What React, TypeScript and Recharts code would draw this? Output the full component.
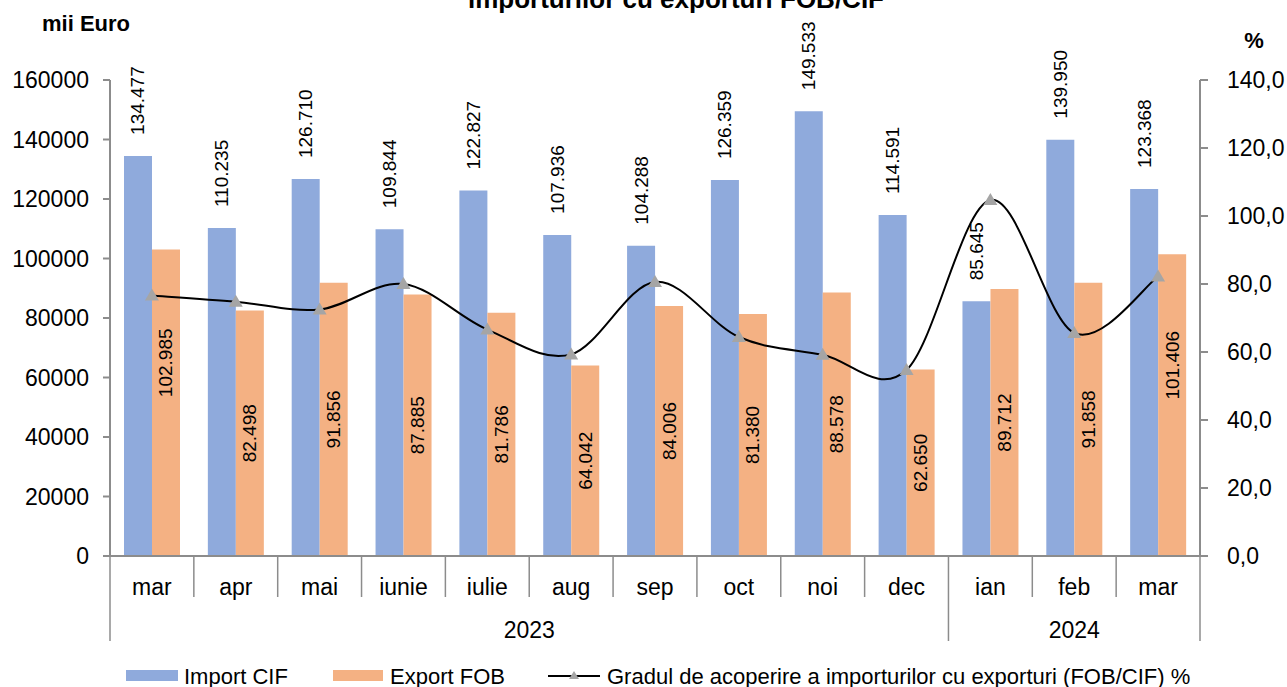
import React from 'react'
import {
  ComposedChart,
  Bar,
  Line,
  XAxis,
  YAxis,
  LabelList,
} from 'recharts'

// --- data (mii Euro) ---
const months = ['mar', 'apr', 'mai', 'iunie', 'iulie', 'aug', 'sep', 'oct', 'noi', 'dec', 'ian', 'feb', 'mar']
const years = ['2023', '2023', '2023', '2023', '2023', '2023', '2023', '2023', '2023', '2023', '2024', '2024', '2024']
const importCif = [134477, 110235, 126710, 109844, 122827, 107936, 104288, 126359, 149533, 114591, 85645, 139950, 123368]
const exportFob = [102985, 82498, 91856, 87885, 81786, 64042, 84006, 81380, 88578, 62650, 89712, 91858, 101406]
const coverage = [76.6, 74.8, 72.5, 80.0, 66.6, 59.3, 80.6, 64.4, 59.2, 54.7, 104.7, 65.6, 82.2]
const leftTicks = [0, 20000, 40000, 60000, 80000, 100000, 120000, 140000, 160000]
const rightTicks = [0, 20, 40, 60, 80, 100, 120, 140]

const data = months.map((m, i) => ({
  month: m,
  year: years[i],
  imp: importCif[i],
  exp: exportFob[i],
  cov: coverage[i],
}))

// layout
const W = 1287
const H = 687
const LEFT_W = 110
const RIGHT_W = 87
const TOP = 80
const XAXIS_H = 90
const BOTTOM = 41
const BAND = (W - LEFT_W - RIGHT_W) / months.length

const FONT = '"Liberation Sans", Arial, sans-serif'
const BLUE = '#8FAADC'
const ORANGE = '#F4B183'
const AXIS = '#8c8c8c'
const MARKER = '#a5a5a5'

const fmtThousands = (v: number) => (v / 1000).toFixed(3)

// Excel-like smooth line (catmull-rom)
const smoothCurve: any = (context: any) => {
  let pts: number[][] = []
  return {
    areaStart() {},
    areaEnd() {},
    lineStart() { pts = [] },
    point(x: number, y: number) { pts.push([+x, +y]) },
    lineEnd() {
      if (!pts.length) return
      context.moveTo(pts[0][0], pts[0][1])
      for (let i = 0; i < pts.length - 1; i++) {
        const p0 = pts[i - 1] || pts[i]
        const p1 = pts[i]
        const p2 = pts[i + 1]
        const p3 = pts[i + 2] || p2
        context.bezierCurveTo(
          p1[0] + (p2[0] - p0[0]) / 6, p1[1] + (p2[1] - p0[1]) / 6,
          p2[0] - (p3[0] - p1[0]) / 6, p2[1] - (p3[1] - p1[1]) / 6,
          p2[0], p2[1],
        )
      }
    },
  }
}

const ImportLabel = (props: any) => {
  const { x, y, width, value } = props
  const cx = x + width / 2
  const ty = y - 21
  return (
    <text x={cx} y={ty} transform={`rotate(-90 ${cx} ${ty})`} textAnchor="start" dominantBaseline="central"
      fontSize={19} fontFamily={FONT} fill="#000">
      {fmtThousands(value)}
    </text>
  )
}

const ExportLabel = (props: any) => {
  const { x, y, width, height, value } = props
  const cx = x + width / 2
  const cy = y + height / 2 + (value >= 100000 ? -40 : 0)
  return (
    <text x={cx} y={cy} transform={`rotate(-90 ${cx} ${cy})`} textAnchor="middle" dominantBaseline="central"
      fontSize={19} fontFamily={FONT} fill="#000">
      {fmtThousands(value)}
    </text>
  )
}

const TriangleDot = (props: any) => {
  const { cx, cy, index } = props
  if (cx == null || cy == null) return null
  return <path key={index} d={`M${cx},${cy - 7} L${cx + 7},${cy + 5} L${cx - 7},${cy + 5} Z`} fill={MARKER} />
}

const MonthTick = (props: any) => {
  const { x, y, payload } = props
  const i = payload.index
  const last = months.length - 1
  const firstOfYear = i === 0 || years[i] !== years[i - 1]
  const left = x - BAND / 2
  let yearCount = 0
  if (firstOfYear) {
    while (i + yearCount < months.length && years[i + yearCount] === years[i]) yearCount++
  }
  return (
    <g>
      <line x1={left} x2={left} y1={y} y2={firstOfYear ? y + 85 : y + 41} stroke={AXIS} strokeWidth={1.5} />
      {i === last && (
        <line x1={x + BAND / 2} x2={x + BAND / 2} y1={y} y2={y + 85} stroke={AXIS} strokeWidth={1.5} />
      )}
      <text x={x} y={y + 39} textAnchor="middle" fontSize={23} fontFamily={FONT} fill="#000">
        {months[i]}
      </text>
      {firstOfYear && (
        <text x={x + ((yearCount - 1) / 2) * BAND} y={y + 82} textAnchor="middle" fontSize={23} fontFamily={FONT} fill="#000">
          {years[i]}
        </text>
      )}
    </g>
  )
}

export default function App() {
  return (
    <div style={{ position: 'absolute', left: 0, top: 0, width: W, height: H, background: '#fff', fontFamily: FONT }}>
      <ComposedChart
        width={W}
        height={H}
        data={data}
        margin={{ top: TOP, right: 0, left: 0, bottom: BOTTOM }}
        barCategoryGap="16.7%"
        barGap={0}
      >
        <XAxis
          dataKey="month"
          height={XAXIS_H}
          interval={0}
          tickLine={false}
          tickSize={0}
          tickMargin={0}
          axisLine={{ stroke: AXIS, strokeWidth: 2 }}
          tick={<MonthTick />}
        />
        <YAxis
          yAxisId="left"
          width={LEFT_W}
          domain={[0, 160000]}
          ticks={leftTicks}
          interval={0}
          tickSize={7}
          tickMargin={14}
          axisLine={{ stroke: AXIS, strokeWidth: 2 }}
          tickLine={{ stroke: AXIS, strokeWidth: 2 }}
          tick={{ fontSize: 23, fill: '#000', fontFamily: FONT }}
        />
        <YAxis
          yAxisId="right"
          orientation="right"
          width={RIGHT_W}
          domain={[0, 140]}
          ticks={rightTicks}
          interval={0}
          tickSize={8}
          tickMargin={19}
          axisLine={{ stroke: AXIS, strokeWidth: 2 }}
          tickLine={{ stroke: AXIS, strokeWidth: 2 }}
          tick={{ fontSize: 23, fill: '#000', fontFamily: FONT, textAnchor: 'start' }}
          tickFormatter={(v: number) => v.toFixed(1).replace('.', ',')}
        />
        <Bar yAxisId="left" dataKey="imp" name="Import CIF" fill={BLUE} isAnimationActive={false}>
          <LabelList dataKey="imp" content={<ImportLabel />} />
        </Bar>
        <Bar yAxisId="left" dataKey="exp" name="Export FOB" fill={ORANGE} isAnimationActive={false}>
          <LabelList dataKey="exp" content={<ExportLabel />} />
        </Bar>
        <Line
          yAxisId="right"
          dataKey="cov"
          name="Gradul de acoperire a importurilor cu exporturi (FOB/CIF) %"
          type={smoothCurve}
          stroke="#000"
          strokeWidth={2}
          dot={<TriangleDot />}
          activeDot={false}
          isAnimationActive={false}
        />
      </ComposedChart>

      <svg width={W} height={H} style={{ position: 'absolute', left: 0, top: 0, pointerEvents: 'none' }}>
        <text x={676} y={8} textAnchor="middle" fontSize={26} fontWeight="bold" fontFamily={FONT} fill="#000">
          importurilor cu exporturi FOB/CIF
        </text>
        <text x={42} y={31} fontSize={22} fontWeight="bold" fontFamily={FONT} fill="#000">mii Euro</text>
        <text x={1254} y={48} textAnchor="middle" fontSize={22} fontWeight="bold" fontFamily={FONT} fill="#000">%</text>

        <rect x={126} y={670} width={52} height={11} fill={BLUE} />
        <text x={184} y={684} fontSize={22} fontFamily={FONT} fill="#000">Import CIF</text>
        <rect x={333} y={670} width={50} height={11} fill={ORANGE} />
        <text x={390} y={684} fontSize={22} fontFamily={FONT} fill="#000">Export FOB</text>
        <line x1={548} x2={600} y1={676} y2={676} stroke="#000" strokeWidth={2} />
        <path d="M574,671 L579,679 L569,679 Z" fill={MARKER} />
        <text x={607} y={684} fontSize={22} fontFamily={FONT} fill="#000">
          Gradul de acoperire a importurilor cu exporturi (FOB/CIF) %
        </text>
      </svg>
    </div>
  )
}
